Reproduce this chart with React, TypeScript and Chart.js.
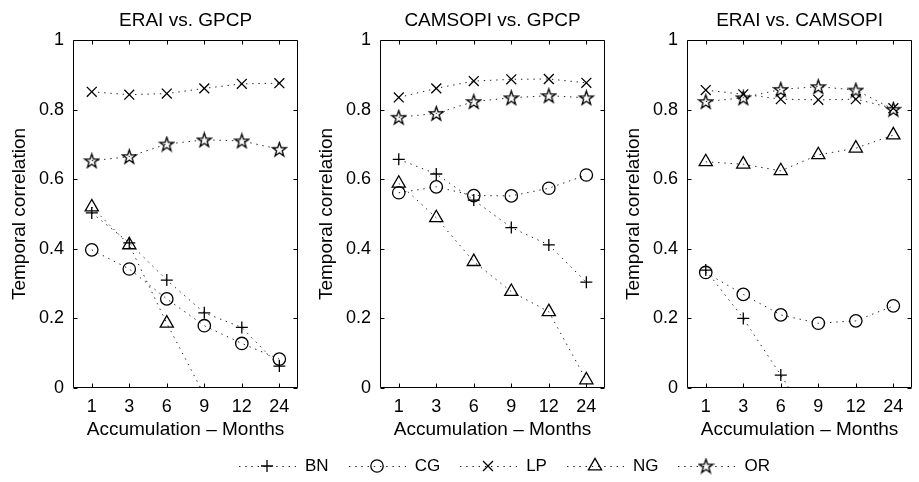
import React, { useEffect, useRef } from 'react';
import { Chart, registerables } from 'chart.js';

Chart.register(...registerables);

const FONT = "'Liberation Sans', Arial, Helvetica, sans-serif";

const months = ['1', '3', '6', '9', '12', '24'];
const yTicks = [0, 0.2, 0.4, 0.6, 0.8, 1];
const seriesNames = ['BN', 'CG', 'LP', 'NG', 'OR'];
const panelTitles = ['ERAI vs. GPCP', 'CAMSOPI vs. GPCP', 'ERAI vs. CAMSOPI'];

// ERAI vs. GPCP
const eraiGpcpBN = [0.503, 0.417, 0.31, 0.216, 0.174, 0.063];
const eraiGpcpCG = [0.397, 0.342, 0.256, 0.179, 0.128, 0.083];
const eraiGpcpLP = [0.851, 0.843, 0.846, 0.861, 0.874, 0.876];
const eraiGpcpNG = [0.52, 0.411, 0.186, -0.02, -0.2, -0.35];
const eraiGpcpOR = [0.653, 0.665, 0.701, 0.713, 0.71, 0.686];

// CAMSOPI vs. GPCP
const camsGpcpBN = [0.657, 0.615, 0.54, 0.461, 0.411, 0.304];
const camsGpcpCG = [0.561, 0.578, 0.553, 0.552, 0.574, 0.612];
const camsGpcpLP = [0.835, 0.861, 0.882, 0.887, 0.888, 0.877];
const camsGpcpNG = [0.588, 0.489, 0.363, 0.277, 0.219, 0.023];
const camsGpcpOR = [0.778, 0.789, 0.823, 0.834, 0.84, 0.834];

// ERAI vs. CAMSOPI
const eraiCamsBN = [0.339, 0.2, 0.037, -0.13, -0.3, -0.45];
const eraiCamsCG = [0.332, 0.269, 0.21, 0.186, 0.193, 0.236];
const eraiCamsLP = [0.856, 0.844, 0.83, 0.828, 0.83, 0.804];
const eraiCamsNG = [0.65, 0.643, 0.624, 0.67, 0.689, 0.727];
const eraiCamsOR = [0.823, 0.834, 0.858, 0.866, 0.856, 0.801];

const panelSeries = [
  [eraiGpcpBN, eraiGpcpCG, eraiGpcpLP, eraiGpcpNG, eraiGpcpOR],
  [camsGpcpBN, camsGpcpCG, camsGpcpLP, camsGpcpNG, camsGpcpOR],
  [eraiCamsBN, eraiCamsCG, eraiCamsLP, eraiCamsNG, eraiCamsOR],
];

// Hollow five-pointed star used as a custom point style
function makeStar(): HTMLCanvasElement {
  const size = 17;
  const c = document.createElement('canvas');
  c.width = size;
  c.height = size;
  const ctx = c.getContext('2d')!;
  const cx = size / 2;
  const cy = size / 2 + 0.6;
  const outer = 7.4;
  const inner = 2.9;
  ctx.beginPath();
  for (let k = 0; k < 10; k++) {
    const r = k % 2 === 0 ? outer : inner;
    const a = -Math.PI / 2 + (k * Math.PI) / 5;
    const x = cx + r * Math.cos(a);
    const y = cy + r * Math.sin(a);
    if (k === 0) ctx.moveTo(x, y);
    else ctx.lineTo(x, y);
  }
  ctx.closePath();
  ctx.lineWidth = 1.3;
  ctx.strokeStyle = '#000';
  ctx.stroke();
  return c;
}

const starImage = makeStar();

type Marker = { style: any; r: number };
const markers: Marker[] = [
  { style: 'cross', r: 6 },
  { style: 'circle', r: 6.2 },
  { style: 'crossRot', r: 7 },
  { style: 'triangle', r: 7.6 },
  { style: starImage, r: 7 },
];

const LINE_DASH = [1.4, 4.8];
const LINE_COLOR = '#222';

// Box around the plot area with inward tick marks on all four sides
const framePlugin = {
  id: 'frame',
  afterDatasetsDraw(chart: any) {
    const { ctx, chartArea: a, scales } = chart;
    const L = Math.round(a.left) + 0.5;
    const R = Math.round(a.right) - 0.5;
    const T = Math.round(a.top) + 0.5;
    const B = Math.round(a.bottom) - 0.5;
    const tl = 4;
    ctx.save();
    ctx.strokeStyle = '#000';
    ctx.lineWidth = 1;
    ctx.setLineDash([]);
    ctx.beginPath();
    ctx.rect(L, T, R - L, B - T);
    const xs = scales.x;
    for (let i = 0; i < xs.ticks.length; i++) {
      const px = Math.round(xs.getPixelForTick(i)) + 0.5;
      ctx.moveTo(px, B);
      ctx.lineTo(px, B - tl);
      ctx.moveTo(px, T);
      ctx.lineTo(px, T + tl);
    }
    const ys = scales.y;
    for (const v of yTicks) {
      const py = Math.round(ys.getPixelForValue(v)) + 0.5;
      ctx.moveTo(L, py);
      ctx.lineTo(L + tl, py);
      ctx.moveTo(R, py);
      ctx.lineTo(R - tl, py);
    }
    ctx.stroke();
    ctx.restore();
  },
};

function makeConfig(title: string, series: number[][]): any {
  return {
    type: 'line',
    data: {
      labels: months,
      datasets: series.map((values, i) => ({
        label: seriesNames[i],
        data: values,
        borderColor: LINE_COLOR,
        borderWidth: 1,
        borderDash: LINE_DASH,
        tension: 0,
        fill: false,
        pointStyle: markers[i].style,
        pointRadius: markers[i].r,
        pointBorderColor: '#000',
        pointBackgroundColor: 'rgba(0,0,0,0)',
        pointBorderWidth: 1.3,
      })),
    },
    options: {
      animation: false,
      responsive: false,
      events: [],
      layout: { padding: { left: 0, right: 1, top: 0, bottom: 0 } },
      plugins: {
        legend: { display: false },
        tooltip: { enabled: false },
        title: {
          display: true,
          text: title,
          fullSize: false,
          color: '#000',
          font: { family: FONT, size: 19, weight: 'normal' },
          padding: { top: 9.6, bottom: 7.6 },
        },
      },
      scales: {
        x: {
          type: 'category',
          offset: true,
          grid: { display: false, drawTicks: false },
          border: { display: false },
          ticks: {
            color: '#000',
            font: { family: FONT, size: 18 },
            padding: 7.9,
            maxRotation: 0,
            autoSkip: false,
          },
          title: {
            display: true,
            text: 'Accumulation – Months',
            color: '#000',
            font: { family: FONT, size: 19 },
            padding: { top: 0, bottom: 40.6 },
          },
          afterFit: (s: any) => {
            s.height = 94;
          },
        },
        y: {
          type: 'linear',
          min: 0,
          max: 1,
          grid: { display: false, drawTicks: false },
          border: { display: false },
          ticks: {
            stepSize: 0.2,
            color: '#000',
            font: { family: FONT, size: 18 },
            padding: 9,
            callback: (v: any) => String(+Number(v).toFixed(1)),
          },
          title: {
            display: true,
            text: 'Temporal correlation',
            color: '#000',
            font: { family: FONT, size: 19 },
            padding: { top: 8.6, bottom: 0 },
          },
          afterFit: (s: any) => {
            s.width = 73;
          },
        },
      },
    },
    plugins: [framePlugin],
  };
}

function Panel({ index }: { index: number }) {
  const ref = useRef<HTMLCanvasElement>(null);
  useEffect(() => {
    const chart = new Chart(ref.current!, makeConfig(panelTitles[index], panelSeries[index]));
    return () => chart.destroy();
  }, [index]);
  return (
    <canvas
      ref={ref}
      width={307}
      height={482}
      style={{ position: 'absolute', left: index * 307, top: 0, width: 307, height: 482 }}
    />
  );
}

function drawKeyMarker(ctx: CanvasRenderingContext2D, m: Marker, x: number, y: number) {
  ctx.save();
  ctx.setLineDash([]);
  ctx.strokeStyle = '#000';
  ctx.lineWidth = 1.3;
  ctx.beginPath();
  if (m.style === 'cross') {
    ctx.moveTo(x - m.r, y);
    ctx.lineTo(x + m.r, y);
    ctx.moveTo(x, y - m.r);
    ctx.lineTo(x, y + m.r);
  } else if (m.style === 'crossRot') {
    const d = m.r * Math.SQRT1_2;
    ctx.moveTo(x - d, y - d);
    ctx.lineTo(x + d, y + d);
    ctx.moveTo(x - d, y + d);
    ctx.lineTo(x + d, y - d);
  } else if (m.style === 'circle') {
    ctx.arc(x, y, m.r, 0, Math.PI * 2);
  } else if (m.style === 'triangle') {
    for (let k = 0; k < 3; k++) {
      const a = (k * 2 * Math.PI) / 3;
      const px = x + Math.sin(a) * m.r;
      const py = y - Math.cos(a) * m.r;
      if (k === 0) ctx.moveTo(px, py);
      else ctx.lineTo(px, py);
    }
    ctx.closePath();
  } else {
    const img = m.style as HTMLCanvasElement;
    ctx.drawImage(img, x - img.width / 2, y - img.height / 2);
  }
  ctx.stroke();
  ctx.restore();
}

function LegendKey({ index }: { index: number }) {
  const ref = useRef<HTMLCanvasElement>(null);
  useEffect(() => {
    const ctx = ref.current!.getContext('2d')!;
    ctx.clearRect(0, 0, 58, 20);
    ctx.strokeStyle = LINE_COLOR;
    ctx.lineWidth = 1;
    ctx.setLineDash(LINE_DASH);
    ctx.beginPath();
    ctx.moveTo(1, 10.5);
    ctx.lineTo(58, 10.5);
    ctx.stroke();
    drawKeyMarker(ctx, markers[index], 29, 10);
  }, [index]);
  return <canvas ref={ref} width={58} height={20} style={{ width: 58, height: 20 }} />;
}

export default function App() {
  return (
    <div
      style={{
        position: 'absolute',
        left: 0,
        top: 0,
        width: 919,
        height: 482,
        overflow: 'hidden',
        background: '#fff',
        fontFamily: FONT,
      }}
    >
      {[0, 1, 2].map((i) => (
        <Panel key={i} index={i} />
      ))}
      <div
        style={{
          position: 'absolute',
          left: 238,
          top: 456,
          height: 20,
          display: 'flex',
          alignItems: 'center',
          whiteSpace: 'nowrap',
        }}
      >
        {seriesNames.map((name, i) => (
          <div key={name} style={{ display: 'flex', alignItems: 'center', marginRight: i < 4 ? 19 : 0 }}>
            <LegendKey index={i} />
            <span style={{ marginLeft: 9, fontSize: 17, color: '#000', lineHeight: '20px' }}>{name}</span>
          </div>
        ))}
      </div>
    </div>
  );
}
